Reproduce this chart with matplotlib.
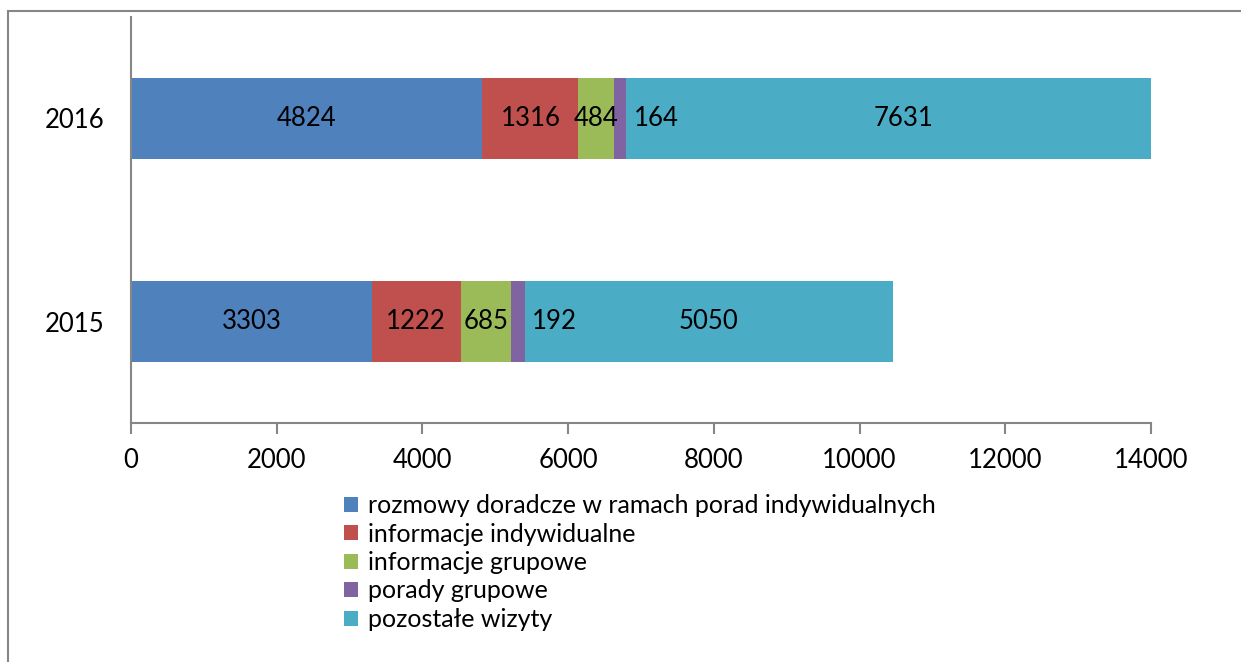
import numpy as np
import matplotlib
matplotlib.use("Agg")
import matplotlib.pyplot as plt
from matplotlib.patches import Rectangle

plt.rcParams['font.family'] = ['Lato', 'DejaVu Sans']

years = ["2015", "2016"]
series = ["rozmowy doradcze w ramach porad indywidualnych",
          "informacje indywidualne",
          "informacje grupowe",
          "porady grupowe",
          "pozostałe wizyty"]
values = [
    [3303, 4824],
    [1222, 1316],
    [685, 484],
    [192, 164],
    [5050, 7631],
]
colors = ["#4F81BD", "#C0504D", "#9BBB59", "#8064A2", "#4BACC6"]
xticks = [0, 2000, 4000, 6000, 8000, 10000, 12000, 14000]

fig = plt.figure(figsize=(12.41, 6.62), dpi=100)
# outer chart frame (only left and top visible)
fig.patches.append(Rectangle((8/1241, -0.1), 1.2, 1 - 11/662 + 0.1,
                             transform=fig.transFigure, fill=False,
                             edgecolor="#868686", linewidth=1.5))
ax = fig.add_axes([131/1241, 1 - 423/662, (1151-131)/1241, (423-17)/662])

y = np.arange(len(years))
left = np.zeros(len(years))
for i, (name, vals) in enumerate(zip(series, values)):
    vals = np.array(vals)
    ax.barh(y, vals, left=left, height=0.4, color=colors[i], label=name)
    for j, v in enumerate(vals):
        xc = left[j] + v / 2
        if i == 3:
            xc += 500  # small segment: label pushed to the right
        ax.text(xc, y[j], str(v), ha="center", va="center", fontsize=18.5, color="black")
    left += vals

ax.set_xlim(0, 14000)
ax.set_ylim(-0.5, 1.5)
ax.set_yticks(y)
ax.set_yticklabels(years)
ax.set_xticks(xticks)
ax.tick_params(axis="y", length=0, labelsize=18.5, pad=19)
ax.tick_params(axis="x", length=8, width=1.5, color="#868686", labelsize=18.5, pad=10)
for s in ["top", "right"]:
    ax.spines[s].set_visible(False)
for s in ["left", "bottom"]:
    ax.spines[s].set_color("#868686")
    ax.spines[s].set_linewidth(1.5)

ax.legend(loc="upper left", bbox_to_anchor=(344/1241, 1 - 494/662),
          bbox_transform=fig.transFigure, frameon=False, fontsize=18,
          handlelength=0.55, handleheight=0.55, handletextpad=0.4,
          labelspacing=0.22, borderaxespad=0, borderpad=0)

fig.savefig("out.png", dpi=100)
